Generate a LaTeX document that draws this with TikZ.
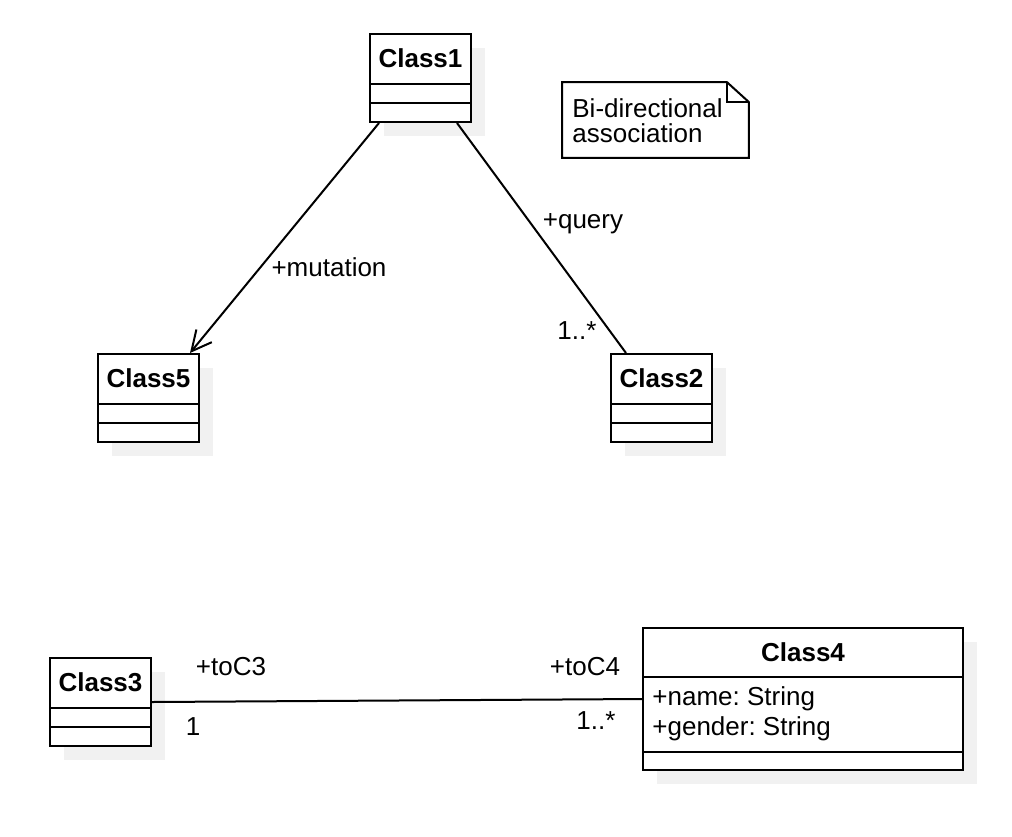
\documentclass[tikz,border=0pt]{standalone}
\usepackage{fontspec}
\setmainfont{Liberation Sans}
\usetikzlibrary{arrows.meta, calc, shadows}
\frenchspacing
\definecolor{shadowGray}{RGB}{241,241,241}
\tikzset{
  umlclass/.style={draw, line width=1pt, fill=white, inner sep=0pt, anchor=north west,
    drop shadow={shadow xshift=7pt, shadow yshift=-7pt, fill=shadowGray, opacity=1}},
  classname/.style={font=\fontsize{13}{15}\selectfont\bfseries},
  assoc/.style={line width=1pt},
  role/.style={inner sep=0pt},
}

\begin{document}
\begin{tikzpicture}[x=0.5pt, y=-0.5pt, font=\fontsize{13}{15}\selectfont]
  \useasboundingbox (0,0) rectangle (1012,836);

  % small classes, three compartments
  \foreach \name/\x/\y/\title in {c1/369/33/Class1, c5/97/353/Class5, c2/610/353/Class2, c3/49/657/Class3} {
    \node[umlclass, minimum width=50.5pt, minimum height=44pt] (\name) at (\x,\y) {};
    \node[classname] (\name-title) at ($(\name.north)+(0,25.5)$) {\title};
    \draw[line width=1pt] ($(\name.north west)+(0,51)$) -- ($(\name.north east)+(0,51)$);
    \draw[line width=1pt] ($(\name.north west)+(0,70)$) -- ($(\name.north east)+(0,70)$);
  }

  % Class4 with attributes
  \node[umlclass, minimum width=160pt, minimum height=71pt] (c4) at (642,627) {};
  \node[classname] (c4-title) at ($(c4.north)+(0,25)$) {Class4};
  \draw[line width=1pt] ($(c4.north west)+(0,50)$) -- ($(c4.north east)+(0,50)$);
  \draw[line width=1pt] ($(c4.north west)+(0,125)$) -- ($(c4.north east)+(0,125)$);
  \node[anchor=west, align=left, inner sep=0pt, font=\fontsize{13}{15}\selectfont] (c4-attr) at (652,714) {+name: String\\+gender: String};

  % note
  \node[minimum width=93pt, minimum height=37.5pt, anchor=north west, inner sep=0pt] (note) at (562,82) {};
  \draw[line width=1pt] (note.north west) -- ($(note.north east)+(-22,0)$) -- ($(note.north east)+(0,20)$)
    -- (note.south east) -- (note.south west) -- cycle;
  \draw[line width=1pt] ($(note.north east)+(-22,0)$) |- ($(note.north east)+(0,20)$);
  \node[anchor=west, align=left, inner sep=0pt, font=\fontsize{13}{12.3}\selectfont] (note-text) at (572,121) {Bi-directional\\association};

  % associations
  \draw[assoc, -{Straight Barb[length=10pt, width=10pt]}] ([xshift=5pt]c1.south west) -- ([xshift=-5pt]c5.north east);
  \draw[assoc] ([xshift=-7.5pt]c1.south east) -- ([xshift=8pt]c2.north west);
  \draw[assoc] (c3.east) -- (c4.west);

  \node[role] (mutation) at (329,267) {+mutation};
  \node[role] (query) at (583,224) {+query};
  \node[role] (mult-c2) at (577,331) {1..*};
  \node[role] (toC3) at (231,667) {+toC3};
  \node[role] (mult-c3) at (193,727) {1};
  \node[role] (toC4) at (585,667) {+toC4};
  \node[role] (mult-c4) at (596,721) {1..*};

\end{tikzpicture}
\end{document}
